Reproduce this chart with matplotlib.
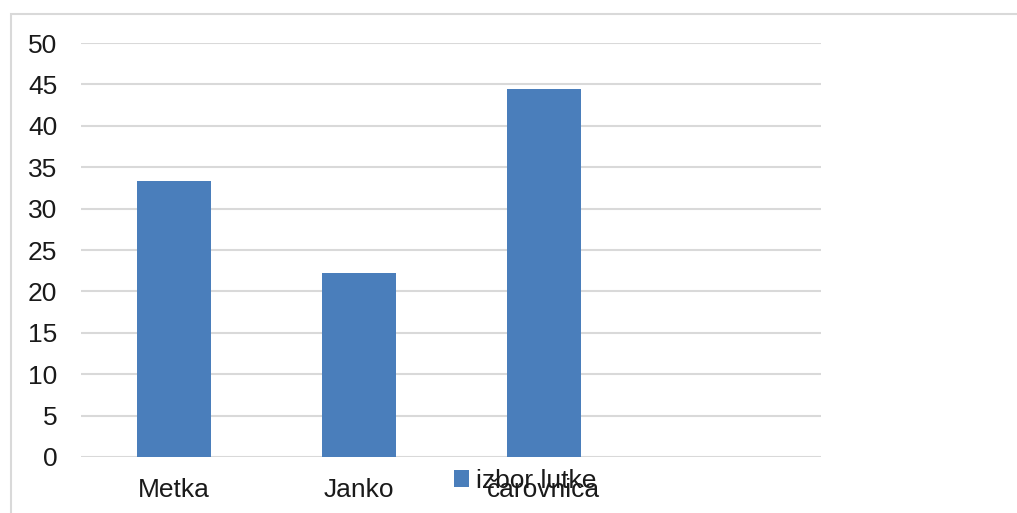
import matplotlib.pyplot as plt
from matplotlib.patches import Rectangle

categories = ['Metka', 'Janko', 'čarovnica', '']
values = [33.33, 22.22, 44.44, 0]
series_name = 'izbor lutke'
y_ticks = [0, 5, 10, 15, 20, 25, 30, 35, 40, 45, 50]

plt.rcParams['font.family'] = ['Liberation Sans', 'DejaVu Sans']

fig = plt.figure(figsize=(10.17, 5.13), dpi=100)
W, H = 1017, 513

# chart border (runs off the right/bottom edge)
fig.patches.append(Rectangle((11 / W, -0.1), 1.2, 1 - 14 / H + 0.1,
                             transform=fig.transFigure, fill=False,
                             edgecolor='#d9d9d9', linewidth=1.5))

ax = fig.add_axes([81 / W, 1 - 457 / H, (821 - 81) / W, (457 - 43) / H])
x = range(len(categories))
bars = ax.bar(x, values, width=0.4, color='#4a7ebb', label=series_name, zorder=2)
ax.set_xlim(-0.5, len(categories) - 0.5)
ax.set_ylim(0, 50)
ax.set_yticks(y_ticks)
ax.set_xticks(list(x))
ax.set_xticklabels(categories)
ax.grid(axis='y', color='#d9d9d9', linewidth=1.5, zorder=0)
for s in ax.spines.values():
    s.set_visible(False)
ax.tick_params(length=0, labelsize=19, colors='#1a1a1a')
ax.tick_params(axis='y', pad=17)
ax.tick_params(axis='x', pad=15)

ax.legend(loc='center', bbox_to_anchor=(525 / W, 1 - 481 / H),
          bbox_transform=fig.transFigure, frameon=False, fontsize=19,
          handlelength=0.6, handleheight=0.6, handletextpad=0.25,
          borderpad=0, labelcolor='#1a1a1a')

fig.savefig('out.png', dpi=100)
